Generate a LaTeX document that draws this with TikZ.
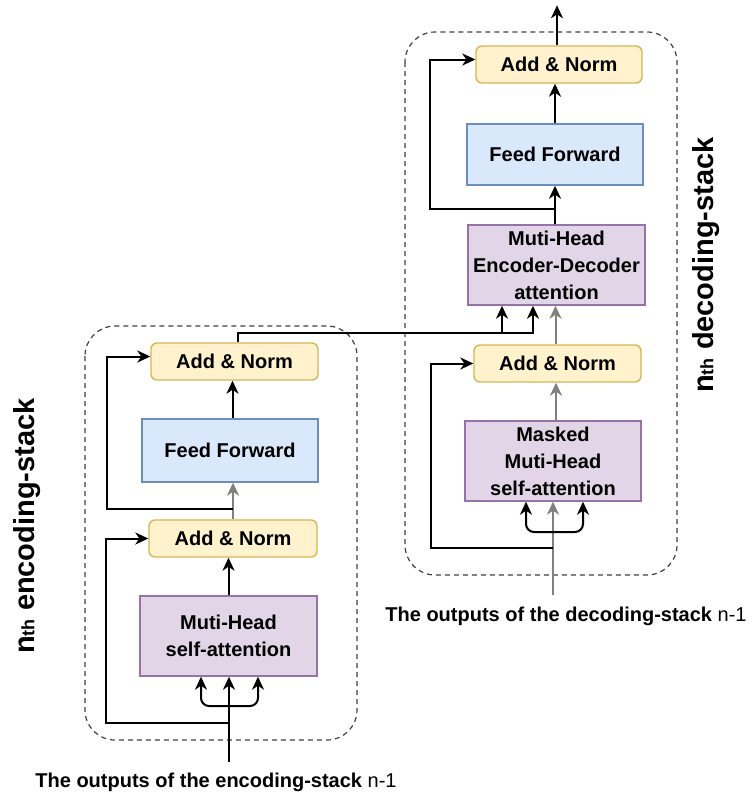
\documentclass[tikz,border=0pt]{standalone}
\usepackage{fontspec}
\setmainfont{Liberation Sans}
\usetikzlibrary{arrows.meta}

\definecolor{annfill}{HTML}{FFF2CC}
\definecolor{anndraw}{HTML}{D6B656}
\definecolor{fffill}{HTML}{DAE8FC}
\definecolor{ffdraw}{HTML}{6C8EBF}
\definecolor{attfill}{HTML}{E1D5E7}
\definecolor{attdraw}{HTML}{9673A6}
\definecolor{wiregray}{HTML}{808080}
\definecolor{framecol}{HTML}{404040}

\tikzset{
  block/.style={draw, line width=1.4pt, align=center, inner sep=0pt,
    font=\fontsize{20}{27}\selectfont\bfseries},
  addnorm/.style={block, fill=annfill, draw=anndraw, rounded corners=6pt},
  ffbox/.style={block, fill=fffill, draw=ffdraw},
  attbox/.style={block, fill=attfill, draw=attdraw},
  conn/.style={line width=2pt, draw=black},
  arr/.style={conn, -{Stealth[length=13pt,width=12pt,inset=4pt]}},
  grayarr/.style={arr, draw=wiregray},
  fork/.style={arr, rounded corners=8pt},
  stackframe/.style={draw=framecol, line width=1.2pt,
    dash pattern=on 5pt off 4pt, rounded corners=30pt},
  sidelabel/.style={rotate=90, font=\fontsize{29}{31}\selectfont\bfseries},
  inlabel/.style={anchor=base, font=\fontsize{20}{24}\selectfont},
}

\begin{document}
\begin{tikzpicture}[x=1pt, y=-1pt]
\useasboundingbox (0,0) rectangle (754,793);

% dashed frames of the two stacks
\draw[stackframe] (85,326) rectangle (357,740);
\draw[stackframe] (405,32) rectangle (677,575);

% encoding stack
\node[addnorm, minimum width=167pt, minimum height=37pt] (encAN1) at (234.5,361.5) {Add \& Norm};
\node[ffbox,   minimum width=176pt, minimum height=63pt] (encFF)  at (230,450.5) {Feed Forward};
\node[addnorm, minimum width=168pt, minimum height=37pt] (encAN2) at (233,538.5) {Add \& Norm};
\node[attbox,  minimum width=177pt, minimum height=80pt] (encMHA) at (228.5,636) {Muti-Head\\self-attention};

% decoding stack
\node[addnorm, minimum width=166pt, minimum height=37pt] (decAN1) at (559,64.5) {Add \& Norm};
\node[ffbox,   minimum width=176pt, minimum height=61pt] (decFF)  at (555,154.5) {Feed Forward};
\node[attbox,  minimum width=177pt, minimum height=80pt] (decED)  at (556.5,265) {Muti-Head\\Encoder-Decoder\\attention};
\node[addnorm, minimum width=167pt, minimum height=37pt] (decAN2) at (557.5,363.5) {Add \& Norm};
\node[attbox,  minimum width=176pt, minimum height=80pt] (decMSA) at (553,461) {Masked\\Muti-Head\\self-attention};

% side labels
\node[sidelabel] (encLabel) at (27,526) {n{\fontsize{18}{18}\selectfont th} encoding-stack};
\node[sidelabel] (decLabel) at (706,265) {n{\fontsize{18}{18}\selectfont th} decoding-stack};

% input labels
\node[inlabel] (encInLabel) at (216,787) {\textbf{The outputs of the encoding-stack} n-1};
\node[inlabel] (decInLabel) at (566,621) {\textbf{The outputs of the decoding-stack} n-1};

% connector points
\coordinate (encIn)    at (229,762);
\coordinate (encSplit) at (229,723);
\coordinate (encFork)  at (229,706);
\coordinate (encMid)   at (233,509);
\coordinate (bus)      at (238,333);
\coordinate (decIn)    at (553,595);
\coordinate (decSplit) at (553,548);
\coordinate (decFork)  at (553,532);
\coordinate (decMid)   at (555,209);

% encoding stack wiring
\draw[arr] (encIn) -- (encIn |- encMHA.south);
\draw[fork] (encFork) -| ([xshift=-27.5pt]encMHA.south);
\draw[fork] (encFork) -| ([xshift=29.5pt]encMHA.south);
\draw[arr] (encSplit) -- ++(-123,0) |- (encAN2.west);
\draw[arr] (encMHA.north) -- (encMHA.north |- encAN2.south);
\draw[grayarr] (encAN2.north) -- (encAN2.north |- encFF.south);
\draw[arr] (encMid) -- ++(-126,0) |- ([yshift=5pt]encAN1.west);
\draw[arr] ([xshift=2.5pt]encFF.north) -- ([xshift=2.5pt]encFF.north |- encAN1.south);

% encoder output into the encoder-decoder attention
\draw[arr] (encAN1.north -| bus) -- (bus) -| ([xshift=-23.5pt]decED.south);
\draw[arr] ([xshift=-54.5pt]decED.south |- bus) -- ([xshift=-54.5pt]decED.south);

% decoding stack wiring
\draw[grayarr] (decIn) -- (decIn |- decMSA.south);
\draw[fork] (decFork) -| ([xshift=-27pt]decMSA.south);
\draw[fork] (decFork) -| ([xshift=30pt]decMSA.south);
\draw[arr] (decSplit) -- ++(-122,0) |- (decAN2.west);
\draw[grayarr] ([xshift=3pt]decMSA.north) -- ([xshift=3pt]decMSA.north |- decAN2.south);
\draw[grayarr] ([xshift=-2pt]decAN2.north) -- ([xshift=-2pt]decAN2.north |- decED.south);
\draw[arr] ([xshift=-1.5pt]decED.north) -- ([xshift=-1.5pt]decED.north |- decFF.south);
\draw[arr] (decMid) -- ++(-125,0) |- ([yshift=5pt]decAN1.west);
\draw[arr] (decFF.north) -- (decFF.north |- decAN1.south);
\draw[arr] ([xshift=-2pt]decAN1.north) -- ++(0,-40);

\end{tikzpicture}
\end{document}
